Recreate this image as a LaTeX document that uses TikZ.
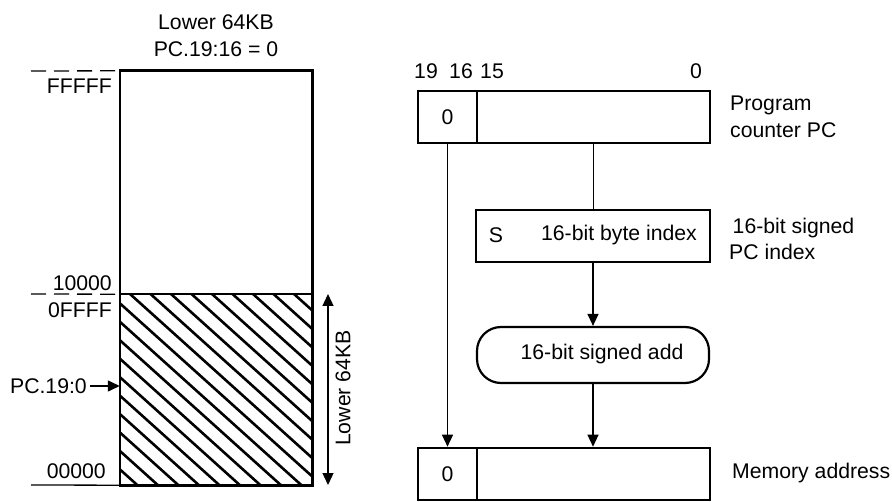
\documentclass[tikz,border=0pt]{standalone}
\usepackage{fontspec}
\setmainfont{Liberation Sans}
\usetikzlibrary{arrows.meta}
\begin{document}
\begin{tikzpicture}[x=1bp,y=-1bp,
  every node/.style={font=\fontsize{21.3}{26.5}\selectfont, inner sep=0pt},
  boxb/.style={draw, line width=2.6bp, rectangle, minimum height=52bp},
  thinln/.style={line width=1.3bp},
  arr/.style={thinln, -{Triangle[length=12bp,width=11bp]}},
  darr/.style={thinln, {Triangle[length=12bp,width=11bp]}-{Triangle[length=12bp,width=11bp]}},
  dashln/.style={line width=1.3bp, dash pattern=on 15bp off 8bp},
  hatch/.style={line width=2.6bp}]
\useasboundingbox (0,0) rectangle (892,502);

% ---------- memory map ----------
\node[minimum width=192bp, minimum height=223bp] (upper) at (216,182.5) {};
\node[minimum width=192bp, minimum height=191bp] (lower) at (216,389.5) {};
\begin{scope}
  \clip (lower.north west) rectangle (lower.south east);
  \foreach \i in {-12,...,10}
    \draw[hatch] ({130+\i*20.5},294) -- ++(240,216);
\end{scope}
\draw[line width=1.6bp] (upper.south west) -- (upper.south east);
\draw[line width=2.6bp] (upper.north west) rectangle (lower.south east);

\node (t1) at (216,22) {Lower 64KB};
\node (t2) at (216,49) {PC.19:16 = 0};

\coordinate (d1) at (31,71);
\coordinate (d2) at (31,294);
\coordinate (d3) at (31,485);
\draw[dashln] (d1) -- (upper.north west);
\draw[dashln] (d2) -- (upper.south west);
\draw[thinln] (d3) -- (lower.south west);

\node[anchor=east] (fffff) at (112,86) {FFFFF};
\node[anchor=east] (a10000) at (112,283) {10000};
\node[anchor=east] (a0ffff) at (112,310) {0FFFF};
\node[anchor=east] (a00000) at (106,471) {00000};
\node[anchor=east] (pcl) at (87,386) {PC.19:0};
\coordinate (pcarr) at (lower.west |- pcl.east);
\draw[arr] ([xshift=3bp]pcl.east) -- (pcarr);

\coordinate (lt) at (328,294);
\coordinate (lb) at (328,485);
\draw[darr] (lt) -- (lb);
\node[rotate=90] (l64) at (343,388) {Lower 64KB};

% ---------- address computation ----------
\node[boxb, minimum width=59bp] (pc0) at (447.5,117) {0};
\node[boxb, minimum width=233bp] (pcr) at (593.5,117) {};
\node (b19) at (426,71) {19};
\node (b16) at (461,71) {16};
\node (b15) at (492,71) {15};
\node (b0) at (696,71) {0};
\node[anchor=west, align=left] (pcname) at (730,117) {Program\\counter PC};

\node[boxb, minimum width=234bp] (sbox) at (593,236) {};
\node (sl) at (496,235) {S};
\node (sidx) at (619,235) {16-bit byte index};
\node[anchor=west, align=left] (sname) at (729,239) {\,16-bit signed\\PC index};

\node[draw, line width=2.2bp, rectangle, rounded corners=24bp,
      minimum width=232bp, minimum height=56bp] (add) at (593,355) {};
\node (addl) at (602,354) {16-bit signed add};

\node[boxb, minimum width=59bp] (m0) at (447.5,474) {0};
\node[boxb, minimum width=233bp] (mr) at (593.5,474) {};
\node[anchor=west] (mname) at (732,473) {Memory address};

\draw[arr] (pc0.south) -- (m0.north);
\draw[thinln] (pcr.south) -- (pcr.south |- sbox.north);
\draw[arr] (sbox.south) -- (add.north);
\draw[arr] (add.south) -- (add.south |- mr.north);
\end{tikzpicture}
\end{document}
